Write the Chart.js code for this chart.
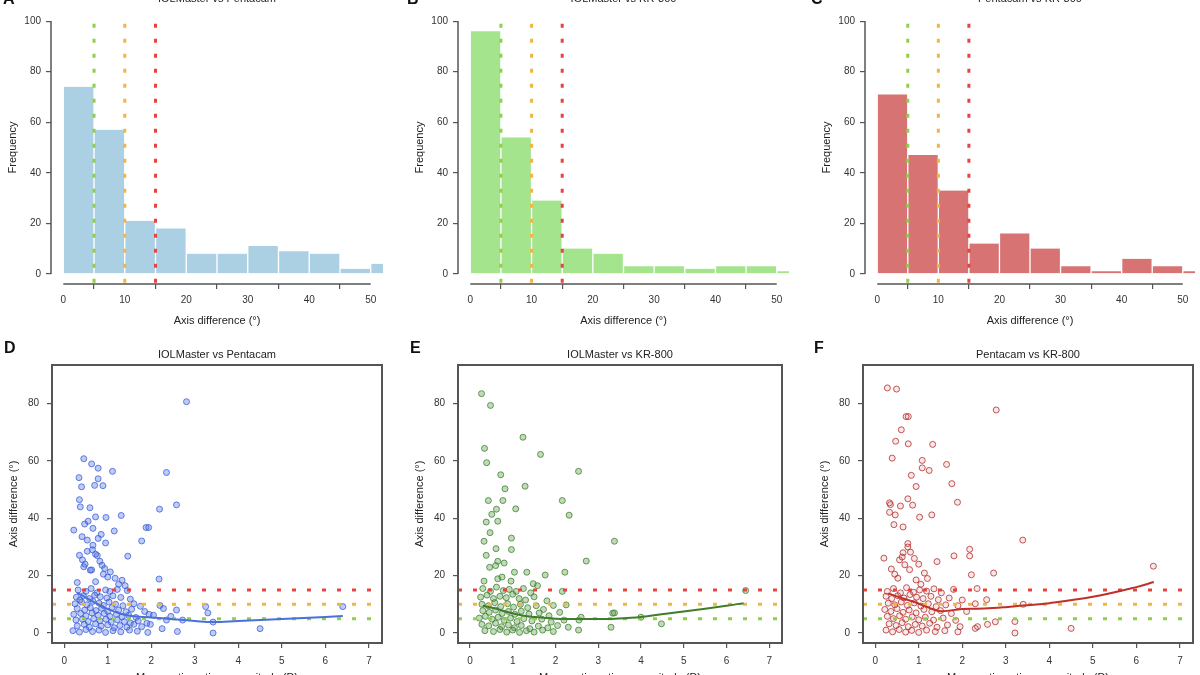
<!DOCTYPE html>
<html>
<head>
<meta charset="utf-8">
<script src="https://cdn.jsdelivr.net/npm/chart.js@4.4.1/dist/chart.umd.min.js"></script>
<style>
  body { margin: 0; width: 1200px; height: 675px; overflow: hidden; background: #fff; position: relative;
         font-family: "Liberation Sans", Arial, sans-serif; }
  canvas { position: absolute; }
  .letter { position: absolute; font-weight: bold; font-size: 16px; line-height: 18px; color: #111; z-index: 2; }
  .title { position: absolute; font-size: 11px; line-height: 13px; text-align: center; color: #222; z-index: 2; }
</style>
</head>
<body>
<canvas id="histA" width="400" height="340" style="left:0;top:0"></canvas>
<canvas id="histB" width="400" height="340" style="left:400px;top:0"></canvas>
<canvas id="histC" width="400" height="340" style="left:800px;top:0"></canvas>
<canvas id="scatD" width="400" height="345" style="left:0;top:340px"></canvas>
<canvas id="scatE" width="400" height="345" style="left:400px;top:340px"></canvas>
<canvas id="scatF" width="400" height="345" style="left:800px;top:340px"></canvas>

<div class="letter" style="left:3px;top:-10px">A</div>
<div class="letter" style="left:407px;top:-10px">B</div>
<div class="letter" style="left:811px;top:-10px">C</div>
<div class="letter" style="left:4px;top:339px">D</div>
<div class="letter" style="left:410px;top:339px">E</div>
<div class="letter" style="left:814px;top:339px">F</div>

<div class="title" style="left:51px;width:332px;top:-8px">IOLMaster vs Pentacam</div>
<div class="title" style="left:458px;width:331px;top:-8px">IOLMaster vs KR-800</div>
<div class="title" style="left:865px;width:330px;top:-8px">Pentacam vs KR-800</div>
<div class="title" style="left:52px;width:330px;top:348px">IOLMaster vs Pentacam</div>
<div class="title" style="left:458px;width:324px;top:348px">IOLMaster vs KR-800</div>
<div class="title" style="left:863px;width:330px;top:348px">Pentacam vs KR-800</div>

<script>
const binMids = [2.5, 7.5, 12.5, 17.5, 22.5, 27.5, 32.5, 37.5, 42.5, 47.5, 52.5];
const freqA = [74, 57, 21, 18, 8, 8, 11, 9, 8, 2, 4];
const freqB = [96, 54, 29, 10, 8, 3, 3, 2, 3, 3, 1];
const freqC = [71, 47, 33, 12, 16, 10, 3, 1, 6, 3, 1];

// cut-off lines at 5, 10, 15 degrees
const cutoffs = [5, 10, 15];
const cutColors = ['#8fd04a', '#f2b544', '#e8433f'];

const histTicksX = [0, 10, 20, 30, 40, 50];
const histTicksY = [0, 20, 40, 60, 80, 100];
const scatTicksX = [0, 1, 2, 3, 4, 5, 6, 7];
const scatTicksY = [0, 20, 40, 60, 80];

// scatter points [mean magnitude, axis difference]
const ptsD = [
  [2.81,80.7],[0.45,60.8],[0.63,59],[0.78,57.5],[1.11,56.4],[2.35,56],[0.34,54.2],[0.78,53.8],
  [0.40,51],[0.70,51.5],[0.89,51.4],[0.35,46.5],[0.37,44],[0.59,43.7],[2.19,43.2],[2.58,44.7],
  [0.72,40.5],[0.96,40.3],[1.31,41],[0.47,38],[0.22,35.9],[0.85,34.4],[1.15,35.6],[1.88,36.8],
  [1.94,36.8],[0.41,33.6],[0.53,32.4],[0.66,30.6],[0.95,31.4],[1.78,32.1],[0.35,27.1],[0.76,27],
  [1.46,26.8],[0.45,23.1],[0.60,21.9],[0.87,23.6],[1.06,21.3],[1.17,19.1],[1.33,18.4],[2.18,18.8],
  [0.30,17.6],[0.72,17.9],[0.55,39],[0.66,36.5],[0.78,33],[0.53,28.5],[0.65,29],[0.72,27.5],
  [0.82,25],[0.42,25.5],[0.48,24],[0.63,22],[0.93,22.5],[0.90,20.5],[1.0,19.5],[1.25,17],[1.4,16.5],
  [0.32,15],[0.5,14.5],[0.62,15.5],[0.75,14],[0.95,15],[1.05,14.5],[1.22,15.2],[1.45,14.8],
  [0.28,12.5],[0.44,13],[0.58,12],[0.7,13.2],[0.83,12.6],[0.98,12.2],[1.12,13],[1.3,12.4],[1.52,11.8],[0.36,11.5],
  [0.25,10.2],[0.4,10.8],[0.52,9.8],[0.66,11],[0.8,10.4],[0.9,9.6],[1.03,10.8],[1.18,10],[1.35,9.5],[1.6,10.2],
  [1.75,9.3],[2.2,9.6],[2.28,8.5],
  [0.3,8.5],[0.47,8],[0.6,8.8],[0.73,7.8],[0.86,8.6],[1.0,7.6],[1.1,8.9],[1.25,8],[1.42,7.4],[1.55,8.3],
  [1.85,7.5],[1.95,6.5],[2.58,8],[3.25,9.2],[3.3,7],
  [0.22,6.5],[0.38,6.8],[0.5,6],[0.64,7],[0.78,6.2],[0.92,6.8],[1.05,5.8],[1.2,6.5],[1.33,5.6],[1.48,6.2],
  [1.65,5.4],[2.05,6.2],[2.45,5.8],[2.72,4.5],
  [0.27,4.5],[0.42,4.8],[0.55,4],[0.68,5],[0.82,4.3],[0.96,4.8],[1.08,3.8],[1.22,4.6],[1.38,4],[1.52,3.5],
  [1.7,4.2],[1.9,3.4],[2.35,4.5],[3.42,3.8],[6.4,9.2],
  [0.3,2.5],[0.46,3],[0.58,2],[0.72,3.2],[0.85,2.4],[1.0,2.8],[1.15,1.8],[1.28,2.6],[1.44,2],[1.6,3],
  [1.78,2.2],[1.98,3],[2.25,1.5],[4.5,1.5],
  [0.2,0.8],[0.35,0.3],[0.5,1.2],[0.65,0.5],[0.8,1],[0.95,0.2],[1.12,0.8],[1.3,0.4],[1.5,1],[1.68,0.6],
  [1.92,0.2],[2.6,0.5],[3.42,0]
];
const ptsE = [
  [0.27,83.5],[0.48,79.4],[1.24,68.3],[0.34,64.4],[1.65,62.3],[0.39,59.4],[2.54,56.4],[0.72,55.2],
  [0.82,50.3],[1.29,51.2],[0.43,46.2],[0.77,46.2],[2.16,46.2],[1.07,43.3],[0.62,43.2],[0.51,41.4],
  [2.32,41.1],[0.38,38.7],[0.65,39],[0.47,35],[0.97,33.1],[0.33,32],[3.38,32],[0.61,29.4],[0.97,29.1],
  [0.38,27.1],[2.72,25.1],[0.65,25],[0.8,24.4],[0.46,22.9],[0.6,23.5],[1.04,21.2],[1.33,21.2],
  [1.76,20.2],[2.22,21.2],[0.33,18.1],[0.65,18.9],[0.96,18.1],[1.48,17.2],[0.75,19.5],
  [6.45,14.8],[3.34,6.9],[3.38,7],[3.3,2],[4.48,3.2],[2.54,1],[2.3,2],[2.6,5.5],[2.16,14.5],[2.55,4.5],[4.0,5.5],
  [0.3,15.5],[0.48,14.5],[0.62,16],[0.78,14.8],[0.92,15.2],[1.08,14.5],[1.25,15.5],[1.42,14],[1.58,16.5],
  [0.25,12.5],[0.4,13.2],[0.55,12],[0.7,12.8],[0.85,12.3],[1.0,13.5],[1.15,12],[1.3,11.5],[1.5,12.6],[1.8,11.2],
  [0.28,10],[0.43,9.5],[0.58,10.6],[0.72,9.2],[0.88,10.2],[1.02,9],[1.18,10],[1.35,8.8],[1.55,9.5],[1.72,8.2],
  [1.95,9.6],[2.25,9.8],
  [0.3,7.8],[0.45,7.2],[0.6,8],[0.75,6.8],[0.9,7.5],[1.05,6.5],[1.2,7.6],[1.38,6.6],[1.62,7],[1.85,6],[2.1,7.2],
  [0.22,5.2],[0.36,5.8],[0.52,4.8],[0.66,5.5],[0.8,4.4],[0.95,5.2],[1.1,4],[1.26,5],[1.45,4.2],[1.68,4.8],
  [1.9,3.8],[2.2,4.5],
  [0.28,3],[0.44,2.5],[0.6,3.4],[0.74,2.2],[0.9,2.8],[1.04,1.8],[1.2,2.6],[1.4,1.5],[1.6,2.4],[1.82,1.8],[2.05,2.6],
  [0.35,0.8],[0.55,0.5],[0.7,1.2],[0.86,0.3],[1.0,1],[1.16,0.2],[1.32,0.8],[1.5,0.3],[1.7,1],[1.95,0.5]
];
const ptsF = [
  [0.28,85.5],[0.49,85.1],[2.78,77.8],[0.71,75.5],[0.76,75.5],[0.60,70.9],[0.47,66.9],[0.76,66],
  [1.32,65.8],[0.39,61],[1.08,60.2],[1.64,58.8],[1.08,57.6],[1.24,56.7],[0.83,55],[1.76,52.1],
  [0.94,51.1],[1.89,45.6],[0.33,45.4],[0.35,44.8],[0.75,46.8],[0.58,44.3],[0.86,44.6],[0.33,42.1],
  [0.46,41.2],[1.02,40.4],[1.30,41.2],[0.43,37.8],[0.64,37],[0.75,31.2],[0.75,30],[0.64,28],[0.81,28.2],
  [3.39,32.4],[0.20,26.1],[2.17,29.2],[2.17,26.9],[1.42,24.9],[1.81,26.9],[0.56,25.5],[0.37,22.3],
  [2.21,20.3],[2.72,20.9],[1.13,20.9],[0.94,18.5],[0.52,19.1],[0.79,22.1],[0.68,23.8],[6.39,23.3],
  [4.5,1.6],[3.21,0],[3.21,4],[2.3,1.6],[2.35,2.2],[2.76,3.9],[2.58,3],[2.34,15.5],[2.56,11.6],[3.4,10],
  [0.9,26],[0.62,26.5],[1.0,24],[0.45,20.5],[1.2,19],[1.05,17],
  [0.28,14.5],[0.42,15.5],[0.58,14],[0.72,15.8],[0.88,14.2],[1.02,15],[1.18,14.6],[1.35,15.4],[1.52,14],[1.8,15.2],
  [0.25,12.8],[0.38,12],[0.52,13],[0.66,12.2],[0.8,13.4],[0.95,12.5],[1.1,12],[1.28,12.8],[1.45,11.6],[1.7,12.2],[2.0,11.5],
  [0.3,10.4],[0.45,9.8],[0.6,10.8],[0.74,9.6],[0.9,10.5],[1.05,9.4],[1.22,10.2],[1.4,9.2],[1.62,9.8],[1.9,9.5],[2.3,10.2],
  [0.22,8.2],[0.36,7.5],[0.5,8.5],[0.64,7.2],[0.78,8],[0.94,7],[1.12,8.2],[1.3,7.4],[1.5,7.8],[1.75,6.8],[2.1,7.5],
  [0.28,5.8],[0.42,5],[0.56,6],[0.7,4.8],[0.85,5.6],[1.0,4.6],[1.15,5.5],[1.34,4.5],[1.56,5.2],[1.85,4.4],
  [0.32,3.2],[0.48,2.6],[0.62,3.6],[0.76,2.2],[0.92,3],[1.08,2.4],[1.25,3.4],[1.42,2],[1.66,2.8],[1.95,2.2],
  [0.25,1],[0.4,0.4],[0.55,1.2],[0.7,0.3],[0.84,0.9],[1.0,0.2],[1.18,1],[1.38,0.5],[1.6,0.8],[1.9,0.4]
];

// smoothed (lowess) trend lines
const lowX = [0.3, 0.6, 0.9, 1.2, 1.5, 2.0, 2.5, 3.0, 3.4, 4.0, 5.0, 6.0, 6.4];
const lowD = [14, 11.5, 9, 7.2, 6, 5.4, 4.8, 4.2, 3.8, 4.2, 4.9, 5.6, 5.9];
const lowE = [9.5, 8.5, 7.2, 6.2, 5.6, 5.0, 4.9, 4.9, 5.0, 5.6, 7.5, 9.5, 10.4];
const lowF = [13.8, 12.2, 10.8, 9, 7.6, 8.4, 8.5, 9, 9.6, 10.4, 12.6, 16, 17.8];

const FONT = '"Liberation Sans", Arial, sans-serif';
const AXIS_COL = '#555';

// R-style detached axes: line only spans first..last tick
const rAxes = {
  id: 'rAxes',
  afterDraw(chart) {
    const { ctx, chartArea, scales } = chart;
    const tx = scales.x.ticks, ty = scales.y.ticks;
    ctx.save();
    ctx.strokeStyle = AXIS_COL;
    ctx.lineWidth = 1.5;
    ctx.beginPath();
    ctx.moveTo(chartArea.left, scales.y.getPixelForValue(ty[0].value));
    ctx.lineTo(chartArea.left, scales.y.getPixelForValue(ty[ty.length - 1].value));
    ctx.moveTo(scales.x.getPixelForValue(tx[0].value), chartArea.bottom);
    ctx.lineTo(scales.x.getPixelForValue(tx[tx.length - 1].value), chartArea.bottom);
    ctx.stroke();
    ctx.restore();
  }
};

const boxAround = {
  id: 'boxAround',
  afterDraw(chart) {
    const { ctx, chartArea: a } = chart;
    ctx.save();
    ctx.strokeStyle = AXIS_COL;
    ctx.lineWidth = 2;
    ctx.strokeRect(a.left, a.top, a.right - a.left, a.bottom - a.top);
    ctx.restore();
  }
};

function tickGrid() {
  return { display: true, drawOnChartArea: false, drawTicks: true, tickLength: 5, color: AXIS_COL, lineWidth: 1.2 };
}

function histChart(id, freq, color, yWidth, padRight) {
  const lines = cutoffs.map((c, i) => ({
    type: 'line',
    data: [{ x: c, y: -3.5 }, { x: c, y: 101 }],
    borderColor: cutColors[i],
    borderWidth: 3,
    borderDash: [4, 11],
    pointRadius: 0
  }));
  new Chart(document.getElementById(id), {
    type: 'bar',
    data: {
      datasets: [...lines, {
        type: 'bar',
        data: binMids.map((m, i) => ({ x: m, y: freq[i] })),
        backgroundColor: color,
        borderColor: '#ffffff',
        borderWidth: { left: 1, right: 1, top: 0, bottom: 0 },
        barPercentage: 1,
        categoryPercentage: 1
      }]
    },
    options: {
      responsive: false,
      animation: false,
      layout: { padding: { top: 5, right: padRight, left: 0, bottom: 0 } },
      plugins: { legend: { display: false }, tooltip: { enabled: false } },
      scales: {
        x: {
          type: 'linear', min: -2, max: 52, offset: false,
          grid: tickGrid(), border: { display: false },
          afterBuildTicks: s => { s.ticks = histTicksX.map(v => ({ value: v })); },
          afterFit: s => { s.height = 56; },
          ticks: { padding: 5, color: '#333', font: { family: FONT, size: 10 }, maxRotation: 0 },
          title: { display: true, text: 'Axis difference (°)', color: '#222', font: { family: FONT, size: 11 },
                   padding: { top: 0, bottom: 12 } }
        },
        y: {
          type: 'linear', min: -4, max: 104,
          grid: tickGrid(), border: { display: false },
          afterBuildTicks: s => { s.ticks = histTicksY.map(v => ({ value: v })); },
          afterFit: s => { s.width = yWidth; },
          ticks: { padding: 5, color: '#333', font: { family: FONT, size: 10 } },
          title: { display: true, text: 'Frequency', color: '#222', font: { family: FONT, size: 11 },
                   padding: { top: yWidth - 38 - 6.6, bottom: 0 } }
        }
      }
    },
    plugins: [rAxes]
  });
}

function scatChart(id, pts, lowY, fill, edge, lineCol, yWidth, padRight) {
  const lines = cutoffs.map((c, i) => ({
    type: 'line',
    data: [{ x: -0.28, y: c }, { x: 7.3, y: c }],
    borderColor: cutColors[i],
    borderWidth: 3,
    borderDash: [4, 11],
    pointRadius: 0
  }));
  new Chart(document.getElementById(id), {
    type: 'scatter',
    data: {
      datasets: [
        {
          type: 'line',
          data: lowX.map((x, i) => ({ x: x, y: lowY[i] })),
          borderColor: lineCol, borderWidth: 2, pointRadius: 0, tension: 0.4
        },
        ...lines,
        {
          type: 'scatter',
          data: pts.map(p => ({ x: p[0], y: p[1] })),
          pointRadius: 3, backgroundColor: fill, borderColor: edge, borderWidth: 1
        }
      ]
    },
    options: {
      responsive: false,
      animation: false,
      layout: { padding: { top: 25, right: padRight, left: 0, bottom: 0 } },
      plugins: { legend: { display: false }, tooltip: { enabled: false } },
      scales: {
        x: {
          type: 'linear', min: -0.28, max: 7.3,
          grid: tickGrid(), border: { display: false },
          afterBuildTicks: s => { s.ticks = scatTicksX.map(v => ({ value: v })); },
          afterFit: s => { s.height = 42; },
          ticks: { padding: 7, color: '#333', font: { family: FONT, size: 10 }, maxRotation: 0 },
          title: { display: true, text: 'Mean astigmatism magnitude (D)', color: '#222',
                   font: { family: FONT, size: 11 }, padding: { top: 0, bottom: 0 } }
        },
        y: {
          type: 'linear', min: -3.5, max: 93.5,
          grid: tickGrid(), border: { display: false },
          afterBuildTicks: s => { s.ticks = scatTicksY.map(v => ({ value: v })); },
          afterFit: s => { s.width = yWidth; },
          ticks: { padding: 8, color: '#333', font: { family: FONT, size: 10 } },
          title: { display: true, text: 'Axis difference (°)', color: '#222', font: { family: FONT, size: 11 },
                   padding: { top: yWidth - 38 - 6.6, bottom: 0 } }
        }
      }
    },
    plugins: [boxAround]
  });
}

histChart('histA', freqA, '#abcfe3', 51, 17);
histChart('histB', freqB, '#a4e48c', 58, 11);
histChart('histC', freqC, '#d87373', 65, 5);

scatChart('scatD', ptsD, lowD, 'rgba(70,105,225,0.35)', 'rgba(55,90,215,0.75)', '#4a70da', 52, 18);
scatChart('scatE', ptsE, lowE, 'rgba(80,150,60,0.35)', 'rgba(55,125,40,0.75)', '#3f7d2c', 58, 18);
scatChart('scatF', ptsF, lowF, 'rgba(200,70,70,0.12)', 'rgba(180,45,45,0.8)', '#c0302a', 63, 7);
</script>
</body>
</html>
